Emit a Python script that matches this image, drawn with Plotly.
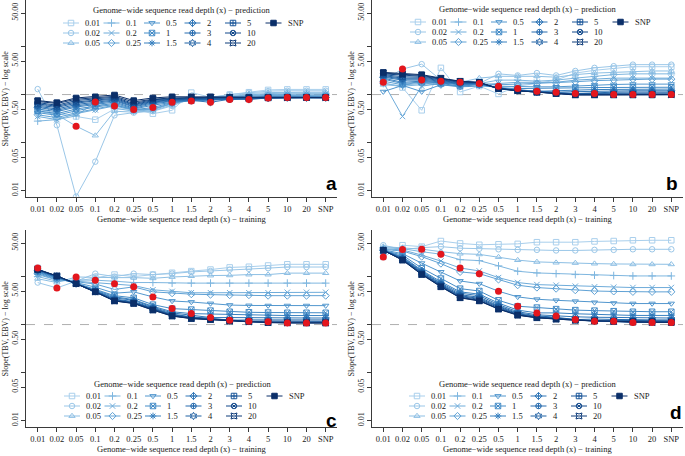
import plotly.graph_objects as go

W, H = 685, 456

# ---------------- data ----------------
categories = ["0.01", "0.02", "0.05", "0.1", "0.2", "0.25", "0.5", "1", "1.5",
              "2", "3", "4", "5", "10", "20", "SNP"]
pred_labels = ["0.01", "0.02", "0.05", "0.1", "0.2", "0.25", "0.5", "1", "1.5",
               "2", "3", "4", "5", "10", "20", "SNP"]
y_tick_vals = [0.01, 0.05, 0.1, 0.5, 1, 5, 10, 50]
y_tick_text = ["0.01", "0.05", "", "0.50", "", "5.00", "", "50.00"]

panel_a = [
    [0.50, 0.40, 0.35, 0.30, 0.50, 0.50, 0.40, 0.47, 1.10, 0.88, 1.00, 1.12, 1.25, 1.28, 1.28, 1.28],
    [1.30, 0.23, 0.0075, 0.04, 0.37, 0.42, 0.45, 0.58, 0.82, 0.86, 1.00, 1.10, 1.18, 1.20, 1.20, 1.20],
    [0.45, 0.38, 0.22, 0.14, 0.45, 0.43, 0.46, 0.60, 0.80, 0.85, 0.95, 1.05, 1.10, 1.12, 1.12, 1.12],
    [0.28, 0.30, 0.36, 0.70, 0.52, 0.45, 0.48, 0.64, 0.80, 0.84, 0.92, 1.00, 1.05, 1.07, 1.07, 1.07],
    [0.35, 0.30, 0.40, 0.48, 0.58, 0.47, 0.50, 0.65, 0.80, 0.83, 0.90, 0.96, 1.00, 1.02, 1.02, 1.02],
    [0.38, 0.33, 0.42, 0.50, 0.60, 0.49, 0.50, 0.66, 0.78, 0.82, 0.88, 0.93, 0.96, 0.97, 0.97, 0.97],
    [0.42, 0.37, 0.46, 0.55, 0.62, 0.48, 0.54, 0.68, 0.76, 0.80, 0.85, 0.90, 0.92, 0.93, 0.93, 0.93],
    [0.46, 0.40, 0.50, 0.58, 0.66, 0.50, 0.60, 0.69, 0.75, 0.78, 0.82, 0.86, 0.89, 0.90, 0.90, 0.90],
    [0.50, 0.44, 0.55, 0.62, 0.70, 0.52, 0.64, 0.72, 0.73, 0.76, 0.80, 0.84, 0.87, 0.88, 0.88, 0.88],
    [0.54, 0.47, 0.58, 0.66, 0.74, 0.55, 0.67, 0.74, 0.76, 0.69, 0.80, 0.83, 0.86, 0.87, 0.87, 0.87],
    [0.57, 0.50, 0.62, 0.70, 0.77, 0.57, 0.70, 0.76, 0.78, 0.80, 0.79, 0.83, 0.85, 0.86, 0.86, 0.86],
    [0.60, 0.54, 0.66, 0.74, 0.80, 0.60, 0.72, 0.78, 0.80, 0.82, 0.82, 0.79, 0.85, 0.86, 0.86, 0.86],
    [0.64, 0.57, 0.70, 0.77, 0.84, 0.62, 0.75, 0.80, 0.83, 0.84, 0.85, 0.85, 0.85, 0.86, 0.86, 0.86],
    [0.68, 0.60, 0.75, 0.80, 0.88, 0.65, 0.78, 0.82, 0.85, 0.86, 0.86, 0.86, 0.86, 0.87, 0.86, 0.86],
    [0.72, 0.65, 0.80, 0.85, 0.92, 0.70, 0.80, 0.85, 0.88, 0.88, 0.87, 0.86, 0.86, 0.86, 0.87, 0.86],
    [0.75, 0.68, 0.85, 0.90, 0.98, 0.75, 0.85, 0.90, 0.90, 0.90, 0.88, 0.87, 0.87, 0.87, 0.87, 0.87],
]
panel_a_diag = [None, None, 0.22, 0.70, 0.58, 0.49, 0.54, 0.69, 0.73, 0.69, 0.79, 0.79, 0.85, 0.87, 0.87, 0.87]

panel_b = [
    [1.80, 1.40, 0.47, 3.60, 1.13, 1.50, 1.03, 1.50, 1.70, 2.00, 2.80, 3.20, 3.50, 3.80, 3.80, 3.80],
    [2.00, 3.40, 4.30, 2.00, 1.60, 1.70, 2.70, 2.50, 2.80, 2.50, 3.10, 3.60, 3.90, 4.20, 4.20, 4.20],
    [1.60, 1.50, 2.00, 1.70, 1.80, 2.20, 2.40, 2.40, 2.40, 2.30, 2.60, 2.80, 2.90, 3.10, 3.10, 3.10],
    [1.70, 1.50, 1.60, 1.90, 1.70, 1.70, 2.00, 2.00, 1.90, 2.00, 2.20, 2.40, 2.60, 2.70, 2.70, 2.70],
    [1.80, 0.35, 1.50, 1.70, 1.80, 1.60, 1.70, 1.80, 1.80, 1.80, 2.00, 2.10, 2.20, 2.20, 2.20, 2.20],
    [1.90, 1.60, 1.70, 1.60, 1.50, 1.69, 1.60, 1.65, 1.70, 1.75, 1.85, 1.95, 2.00, 2.10, 2.10, 2.10],
    [1.15, 1.55, 1.15, 1.60, 1.45, 1.50, 1.49, 1.45, 1.45, 1.45, 1.50, 1.60, 1.62, 1.65, 1.65, 1.65],
    [2.10, 1.70, 1.80, 1.70, 1.50, 1.60, 1.40, 1.33, 1.35, 1.35, 1.38, 1.40, 1.40, 1.42, 1.42, 1.42],
    [2.20, 1.80, 1.90, 1.75, 1.60, 1.65, 1.35, 1.25, 1.17, 1.20, 1.25, 1.27, 1.28, 1.30, 1.30, 1.30],
    [2.30, 2.00, 2.00, 1.80, 1.65, 1.70, 1.38, 1.25, 1.17, 1.12, 1.15, 1.18, 1.20, 1.20, 1.20, 1.20],
    [2.40, 2.10, 2.10, 1.90, 1.70, 1.72, 1.36, 1.22, 1.14, 1.10, 1.05, 1.10, 1.12, 1.13, 1.13, 1.13],
    [2.50, 2.20, 2.20, 1.95, 1.75, 1.73, 1.35, 1.21, 1.13, 1.08, 1.05, 1.05, 1.07, 1.08, 1.08, 1.08],
    [2.60, 2.35, 2.30, 2.00, 1.80, 1.75, 1.34, 1.20, 1.12, 1.06, 1.02, 1.02, 1.00, 1.03, 1.03, 1.03],
    [2.70, 2.50, 2.40, 2.10, 1.85, 1.77, 1.34, 1.20, 1.12, 1.05, 1.00, 1.00, 1.00, 1.00, 1.00, 1.00],
    [2.80, 2.60, 2.50, 2.15, 1.88, 1.78, 1.33, 1.20, 1.12, 1.05, 0.99, 0.99, 0.99, 0.99, 1.00, 0.99],
    [2.90, 2.70, 2.60, 2.20, 1.90, 1.80, 1.33, 1.20, 1.12, 1.05, 0.98, 0.98, 0.98, 0.98, 0.98, 1.00],
]
panel_b_diag = [1.80, 3.40, 2.00, 1.90, 1.80, 1.69, 1.49, 1.33, 1.17, 1.12, 1.05, 1.05, 1.00, 1.00, 1.00, 1.00]

panel_c = [
    [15.1, 9.0, 8.0, 9.5, 11.0, 10.0, 11.0, 12.0, 13.0, 14.0, 15.5, 16.0, 17.0, 18.0, 18.0, 18.0],
    [7.5, 5.8, 8.0, 11.5, 10.0, 11.5, 11.0, 11.5, 12.5, 13.0, 14.0, 14.5, 15.0, 15.8, 15.8, 15.8],
    [9.0, 7.5, 9.8, 9.5, 9.5, 9.5, 9.2, 9.8, 10.2, 10.5, 10.6, 11.0, 11.0, 11.8, 11.8, 11.8],
    [10.0, 8.0, 8.5, 8.4, 8.0, 7.5, 7.5, 7.3, 7.3, 7.3, 7.3, 7.3, 7.3, 7.3, 7.3, 7.3],
    [11.0, 8.5, 8.0, 7.5, 7.1, 6.5, 5.3, 4.9, 4.6, 4.6, 4.6, 4.6, 4.6, 4.7, 4.7, 4.7],
    [11.5, 8.7, 7.8, 7.0, 5.4, 6.1, 4.8, 4.5, 4.3, 4.2, 4.1, 4.1, 4.0, 4.0, 4.0, 4.0],
    [12.0, 9.0, 7.5, 6.0, 4.5, 4.8, 3.77, 3.1, 2.95, 2.75, 2.55, 2.5, 2.48, 2.48, 2.48, 2.48],
    [12.5, 9.3, 7.3, 5.5, 4.0, 3.6, 2.6, 2.15, 2.05, 1.95, 1.85, 1.8, 1.78, 1.76, 1.76, 1.76],
    [13.0, 9.6, 7.3, 5.2, 3.8, 3.3, 2.4, 1.85, 1.69, 1.65, 1.6, 1.56, 1.55, 1.54, 1.54, 1.54],
    [13.2, 9.8, 7.2, 5.0, 3.6, 3.2, 2.3, 1.75, 1.55, 1.40, 1.40, 1.38, 1.37, 1.37, 1.37, 1.37],
    [13.5, 10.0, 7.2, 5.0, 3.4, 3.0, 2.2, 1.65, 1.45, 1.35, 1.23, 1.25, 1.25, 1.25, 1.25, 1.25],
    [13.7, 10.1, 7.1, 4.9, 3.3, 2.9, 2.15, 1.6, 1.42, 1.32, 1.22, 1.17, 1.18, 1.17, 1.17, 1.17],
    [13.8, 10.2, 7.1, 4.85, 3.2, 2.85, 2.1, 1.57, 1.38, 1.30, 1.20, 1.16, 1.14, 1.13, 1.13, 1.13],
    [14.0, 10.3, 7.1, 4.8, 3.15, 2.8, 2.05, 1.53, 1.36, 1.28, 1.18, 1.14, 1.12, 1.08, 1.09, 1.09],
    [14.2, 10.3, 7.1, 4.8, 3.1, 2.78, 2.02, 1.51, 1.34, 1.27, 1.18, 1.14, 1.10, 1.08, 1.08, 1.08],
    [14.0, 10.3, 7.1, 4.8, 3.1, 2.74, 2.0, 1.5, 1.33, 1.27, 1.19, 1.15, 1.10, 1.09, 1.08, 1.08],
]
panel_c_diag = [15.1, 5.8, 9.8, 8.4, 7.1, 6.1, 3.77, 2.15, 1.69, 1.40, 1.23, 1.17, 1.14, 1.08, 1.08, 1.08]

panel_d = [
    [25.7, 45.0, 42.0, 55.0, 49.0, 46.0, 47.0, 48.0, 52.0, 52.0, 52.0, 54.0, 55.0, 57.0, 57.0, 57.0],
    [45.0, 36.5, 40.0, 42.0, 39.0, 38.0, 37.0, 36.0, 36.0, 35.0, 35.0, 36.0, 36.0, 37.0, 37.0, 37.0],
    [42.0, 40.0, 37.2, 33.0, 30.0, 29.0, 25.5, 22.0, 20.2, 19.5, 19.2, 18.6, 18.3, 18.0, 18.0, 18.0],
    [40.0, 38.0, 33.0, 29.2, 22.5, 21.5, 16.7, 12.9, 11.9, 11.5, 11.0, 10.7, 10.5, 10.3, 10.3, 10.3],
    [38.0, 36.0, 28.0, 21.0, 15.1, 13.1, 9.5, 7.5, 6.8, 6.6, 6.3, 6.1, 6.0, 5.9, 5.9, 5.9],
    [37.0, 34.0, 26.0, 18.6, 12.5, 11.5, 8.7, 6.6, 5.9, 5.6, 5.2, 5.0, 4.9, 4.8, 4.8, 4.8],
    [36.0, 30.0, 19.0, 12.5, 8.1, 7.1, 4.95, 3.77, 3.37, 3.2, 3.06, 2.9, 2.8, 2.74, 2.74, 2.74],
    [35.0, 28.0, 15.0, 9.1, 5.6, 5.0, 3.2, 2.41, 2.26, 2.1, 2.0, 1.95, 1.9, 1.85, 1.85, 1.85],
    [35.0, 26.0, 13.5, 7.8, 4.8, 4.3, 2.8, 2.0, 1.75, 1.75, 1.68, 1.63, 1.6, 1.55, 1.55, 1.55],
    [35.0, 25.0, 13.0, 7.3, 4.5, 4.0, 2.6, 1.85, 1.6, 1.51, 1.45, 1.42, 1.4, 1.38, 1.38, 1.37],
    [35.0, 24.0, 12.5, 7.0, 4.2, 3.7, 2.45, 1.75, 1.52, 1.42, 1.27, 1.3, 1.28, 1.25, 1.25, 1.25],
    [35.0, 23.5, 12.0, 6.7, 4.0, 3.5, 2.35, 1.68, 1.47, 1.37, 1.28, 1.17, 1.22, 1.2, 1.2, 1.2],
    [35.0, 23.0, 11.7, 6.5, 3.85, 3.35, 2.25, 1.63, 1.43, 1.34, 1.25, 1.2, 1.17, 1.16, 1.16, 1.16],
    [35.3, 22.5, 11.3, 6.3, 3.7, 3.2, 2.15, 1.6, 1.4, 1.31, 1.24, 1.19, 1.16, 1.1, 1.13, 1.13],
    [35.4, 22.2, 11.1, 6.2, 3.65, 3.15, 2.12, 1.58, 1.39, 1.3, 1.23, 1.19, 1.16, 1.13, 1.1, 1.12],
    [35.4, 21.9, 11.0, 6.1, 3.6, 3.1, 2.09, 1.56, 1.38, 1.29, 1.23, 1.2, 1.17, 1.15, 1.15, 1.1],
]
panel_d_diag = [25.7, 36.5, 37.2, 29.2, 15.1, 11.5, 4.95, 2.41, 1.75, 1.51, 1.27, 1.17, 1.17, 1.1, 1.1, 1.1]

# ---------------- styling ----------------
symbols = ["square-open", "circle-open", "triangle-up-open", "cross-thin-open",
           "x-thin-open", "diamond-open", "triangle-down-open", "square-x-open",
           "asterisk-open", "diamond-cross-open", "circle-cross-open", "hexagram-open",
           "square-cross-open", "circle-x-open", "star-square-open", "square"]

stops = ["#a9cfec", "#86bbe2", "#60a2d5", "#3e87c4", "#266bae", "#145093", "#0b2f69"]


def hex2rgb(h):
    return tuple(int(h[i:i + 2], 16) for i in (1, 3, 5))


def ramp(t):
    n = len(stops) - 1
    k = min(int(t * n), n - 1)
    f = t * n - k
    a, b = hex2rgb(stops[k]), hex2rgb(stops[k + 1])
    return "rgb(%d,%d,%d)" % tuple(round(a[i] + (b[i] - a[i]) * f) for i in range(3))


colors = [ramp(i / 15) for i in range(16)]
RED = "#e3161d"
SERIF = "Liberation Serif"
TXT = "#1a1a1a"
AXC = "#3a3a3a"

# pixel geometry of each panel (left, right, top, bottom of plot region, position of first category)
panels = [
    dict(vals=panel_a, diag=panel_a_diag, letter="a", l=26, r=337, t=0, b=197, c0=37.7,
         leg_tx=83, leg_title=(181, 10), leg_rows=(23, 33, 43), letter_xy=(331, 184)),
    dict(vals=panel_b, diag=panel_b_diag, letter="b", l=372, r=683, t=0, b=197, c0=383.3,
         leg_tx=430, leg_title=(527, 9), leg_rows=(22, 32, 42), letter_xy=(672, 183)),
    dict(vals=panel_c, diag=panel_c_diag, letter="c", l=26, r=337, t=230, b=427, c0=37.7,
         leg_tx=84, leg_title=(182, 384), leg_rows=(396, 406, 416), letter_xy=(331, 420)),
    dict(vals=panel_d, diag=panel_d_diag, letter="d", l=372, r=683, t=230, b=427, c0=383.3,
         leg_tx=429, leg_title=(527, 384), leg_rows=(396, 406, 416), letter_xy=(676, 412)),
]
STEP = 19.2          # px per category
LOG_LO, LOG_HI = -2.134, 1.97

fig = go.Figure()
layout = dict(template="none", width=W, height=H, margin=dict(l=0, r=0, t=0, b=0, autoexpand=False),
              paper_bgcolor="white", plot_bgcolor="rgba(0,0,0,0)", showlegend=False,
              font=dict(family=SERIF, size=8, color=TXT))
annotations = []
shapes = []

for p, P in enumerate(panels):
    sfx = "" if p == 0 else str(p + 1)
    xa, ya = "x" + sfx, "y" + sfx
    x_lo = (P["l"] - P["c0"]) / STEP
    x_hi = (P["r"] - P["c0"]) / STEP
    layout["xaxis" + sfx] = dict(
        domain=[P["l"] / W, P["r"] / W], anchor=ya, type="category", automargin=False,
        categoryorder="array", categoryarray=categories, range=[x_lo, x_hi],
        showline=True, linecolor=AXC, linewidth=1, mirror=False,
        ticks="outside", ticklen=4, tickcolor=AXC, tickwidth=1,
        showgrid=False, zeroline=False,
        tickfont=dict(family=SERIF, size=8.5, color=TXT), fixedrange=True)
    layout["yaxis" + sfx] = dict(
        domain=[1 - P["b"] / H, 1 - P["t"] / H], anchor=xa, type="log", automargin=False,
        range=[LOG_LO, LOG_HI], tickvals=y_tick_vals, ticktext=y_tick_text,
        tickangle=-90, showline=True, linecolor=AXC, linewidth=1, mirror=False,
        ticks="outside", ticklen=4, tickcolor=AXC, tickwidth=1,
        showgrid=False, zeroline=False,
        tickfont=dict(family=SERIF, size=8, color=TXT), fixedrange=True)

    # reference line at slope 1
    shapes.append(dict(type="line", xref=xa + " domain", x0=0, x1=1, yref=ya, y0=1, y1=1,
                       line=dict(color="#b0b0b0", width=1, dash="dash"), layer="below"))

    for s in range(16):
        fig.add_trace(go.Scatter(
            x=categories, y=P["vals"][s], xaxis=xa, yaxis=ya, mode="lines+markers",
            name=pred_labels[s], line=dict(color=colors[s], width=1),
            marker=dict(symbol=symbols[s], size=5.5, color=colors[s],
                        line=dict(color=colors[s], width=1)),
            hoverinfo="skip"))
    fig.add_trace(go.Scatter(
        x=categories, y=P["diag"], xaxis=xa, yaxis=ya, mode="markers",
        marker=dict(symbol="circle", size=7, color=RED), hoverinfo="skip"))

    # axis titles
    cx = (P["l"] + P["r"]) / 2
    annotations.append(dict(
        x=cx / W, y=1 - (P["b"] + 22) / H, xref="paper", yref="paper", showarrow=False,
        text="Genome\u2212wide sequence read depth (x) \u2212 training",
        font=dict(family=SERIF, size=8.5, color=TXT), xanchor="center", yanchor="middle"))
    annotations.append(dict(
        x=(P["l"] - 21) / W, y=1 - (P["t"] + P["b"]) / 2 / H, xref="paper", yref="paper",
        showarrow=False, textangle=-90, text="Slope(TBV, EBV) \u2212 log scale",
        font=dict(family=SERIF, size=8, color=TXT), xanchor="center", yanchor="middle"))
    # panel letter
    lx, ly = P["letter_xy"]
    annotations.append(dict(
        x=lx / W, y=1 - ly / H, xref="paper", yref="paper", showarrow=False,
        text="<b>%s</b>" % P["letter"], font=dict(family="Liberation Sans", size=19, color="black"),
        xanchor="center", yanchor="middle"))

    # legend (drawn in pixel space on an overlay axis)
    tx0, ty0 = P["leg_title"]
    annotations.append(dict(
        x=tx0 / W, y=1 - ty0 / H, xref="paper", yref="paper", showarrow=False,
        text="Genome\u2212wide sequence read depth (x) \u2212 prediction",
        font=dict(family=SERIF, size=8.5, color=TXT), xanchor="center", yanchor="middle"))
    for s in range(16):
        col = 5 if s == 15 else s // 3
        row = 0 if s == 15 else s % 3
        tx = P["leg_tx"] + 40.5 * col
        ty = P["leg_rows"][row]
        fig.add_trace(go.Scatter(
            x=[tx - 20, tx - 12, tx - 4], y=[ty, ty, ty], xaxis="x9", yaxis="y9",
            mode="lines+markers", line=dict(color=colors[s], width=1),
            marker=dict(symbol=symbols[s], size=5.5, color=colors[s], opacity=[0, 1, 0],
                        line=dict(color=colors[s], width=1)), hoverinfo="skip"))
        annotations.append(dict(
            x=tx / W, y=1 - ty / H, xref="paper", yref="paper", showarrow=False,
            text=pred_labels[s], font=dict(family=SERIF, size=8.5, color=TXT),
            xanchor="left", yanchor="middle"))

layout["xaxis9"] = dict(domain=[0, 1], range=[0, W], visible=False, anchor="y9", fixedrange=True)
layout["yaxis9"] = dict(domain=[0, 1], range=[H, 0], visible=False, anchor="x9", fixedrange=True)
layout["annotations"] = annotations
layout["shapes"] = shapes
fig.update_layout(**layout)
fig.write_html("out.html", config={"responsive": False, "displayModeBar": False},
               post_script="document.body.style.margin='0px';document.body.style.overflow='hidden';")
